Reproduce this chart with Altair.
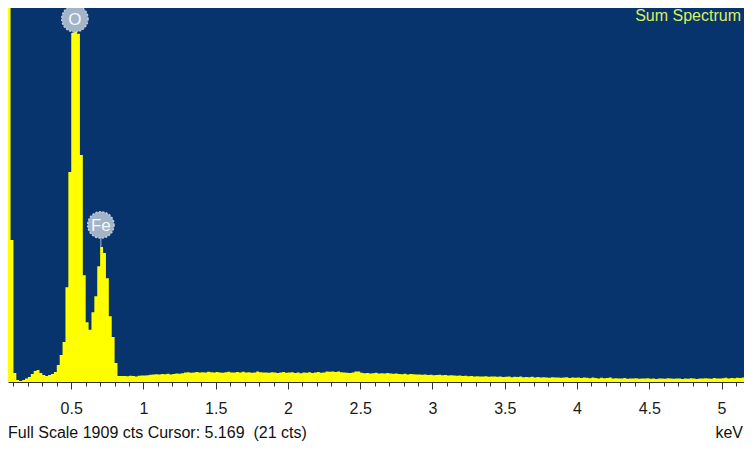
import altair as alt
import pandas as pd

# ---------------- data ----------------
channel_start_kev = 0.06
channel_width_kev = 0.02
counts = [
    2450, 712, 45, 10, 5, 10, 18, 25, 40, 55,          # 0.06 - 0.24
    60, 45, 35, 30, 35, 40, 50, 85, 135, 200,          # 0.26 - 0.44
    475, 1052, 1749, 1755, 1745, 1137, 535, 300, 262, 350,  # 0.46 - 0.64
    430, 580, 676, 646, 520, 330, 225, 95, 30, 30,     # 0.66 - 0.84
    30, 29, 31, 30, 28, 31, 33, 32, 34, 36,            # 0.86 - 1.04
    37, 39, 38, 40, 39, 41, 38, 40, 42, 41,            # 1.06 - 1.24
    44, 47, 49, 46, 48, 50, 47, 49, 48, 51,            # 1.26 - 1.44
    49, 47, 50, 48, 46, 49, 51, 48, 47, 50,            # 1.46 - 1.64
    48, 51, 47, 49, 46, 48, 52, 49, 47, 48,            # 1.66 - 1.84
    46, 49, 47, 45, 48, 50, 46, 47, 49, 45,            # 1.86 - 2.04
    47, 44, 48, 46, 49, 45, 47, 50, 46, 48,            # 2.06 - 2.24
    52, 51, 53, 50, 52, 49, 47, 46, 45, 47,            # 2.26 - 2.44
    52, 53, 46, 44, 45, 43, 44, 46, 43, 44,            # 2.46 - 2.64
    43, 45, 42, 41, 42, 40, 39, 41, 38, 40,            # 2.66 - 2.84
    39, 37, 38, 36, 37, 35, 36, 34, 35, 36,            # 2.86 - 3.04
    34, 35, 33, 34, 32, 31, 33, 30, 31, 29,            # 3.06 - 3.24
    30, 28, 29, 27, 28, 29, 26, 27, 28, 26,            # 3.26 - 3.44
    27, 25, 26, 28, 24, 26, 25, 27, 24, 25,            # 3.46 - 3.64
    24, 26, 23, 25, 22, 24, 23, 21, 24, 22,            # 3.66 - 3.84
    23, 21, 22, 24, 20, 22, 21, 23, 20, 22,            # 3.86 - 4.04
    21, 19, 22, 20, 18, 21, 19, 20, 22, 18,            # 4.06 - 4.24
    19, 17, 18, 20, 16, 18, 17, 19, 16, 18,            # 4.26 - 4.44
    17, 19, 16, 18, 15, 17, 18, 16, 19, 17,            # 4.46 - 4.64
    16, 18, 17, 15, 18, 16, 19, 17, 15, 18,            # 4.66 - 4.84
    17, 19, 18, 16, 20, 18, 17, 19, 21, 18,            # 4.86 - 5.04
    20, 19, 21, 20, 22, 21, 19, 20,                    # 5.06 - 5.20
]

elements = ["O", "Fe"]
line_kev = [0.525, 0.705]
label_counts = [1820, 787]
peak_counts = [1755, 676]

major_ticks = [0.5, 1, 1.5, 2, 2.5, 3, 3.5, 4, 4.5, 5]
minor_ticks = [round(0.1 * i, 1) for i in range(1, 52)]

x_domain = [0.0623, 5.1557]
y_domain = [0, 1874]

title_text = "Sum Spectrum"
footer_text = "Full Scale 1909 cts Cursor: 5.169\u00a0 (21 cts)"
unit_text = "keV"

# ---------------- build ----------------
kev = [round(channel_start_kev + channel_width_kev * i, 2) for i in range(len(counts))]
kev.append(round(kev[-1] + channel_width_kev, 2))
cts = counts + [counts[-1]]
spec_df = pd.DataFrame({"kev": kev, "cts": cts})

FONT = "Liberation Sans, Arial, sans-serif"
BLUE = "#08346e"
YELLOW = "#ffff00"

xs = alt.Scale(domain=x_domain, nice=False, zero=False)
ys = alt.Scale(domain=y_domain, nice=False, zero=False)

spectrum = alt.Chart(spec_df).mark_area(
    interpolate="step-after", color=YELLOW, clip=True
).encode(
    x=alt.X("kev:Q", scale=xs, axis=alt.Axis(
        orient="bottom", values=major_ticks, format="~g", title=None, grid=False,
        domainColor="#333333", domainWidth=1, tickColor="#333333", tickSize=7,
        tickWidth=1, labelFont=FONT, labelFontSize=16, labelColor="#1a1a1a",
        labelPadding=11, labelFlush=False, labelOverlap=False)),
    y=alt.Y("cts:Q", scale=ys, axis=None),
)

minor = alt.Chart(pd.DataFrame({"kev": minor_ticks})).mark_rule(opacity=0).encode(
    x=alt.X("kev:Q", scale=xs, axis=alt.Axis(
        orient="bottom", values=minor_ticks, labels=False, domain=False, grid=False,
        title=None, tickSize=4, tickColor="#333333", tickWidth=1)),
)

lab_df = pd.DataFrame({"element": elements, "kev": line_kev,
                       "label_cts": label_counts, "peak_cts": peak_counts})

connector = alt.Chart(lab_df).mark_rule(color="#aebdd0", strokeWidth=1).encode(
    x=alt.X("kev:Q", scale=xs, axis=None),
    y=alt.Y("label_cts:Q", scale=ys, axis=None),
    y2="peak_cts:Q",
)

circles = alt.Chart(lab_df).mark_point(
    shape="circle", filled=True, size=690, color="#a3b3c8", opacity=1,
    stroke="#c3cfdc", strokeWidth=1.5, strokeDash=[2, 1.5]
).encode(
    x=alt.X("kev:Q", scale=xs, axis=None),
    y=alt.Y("label_cts:Q", scale=ys, axis=None),
)

letters = alt.Chart(lab_df).mark_text(
    font=FONT, fontSize=17, color="#f4f7fa", align="center", baseline="middle", dy=1
).encode(
    x=alt.X("kev:Q", scale=xs, axis=None),
    y=alt.Y("label_cts:Q", scale=ys, axis=None),
    text="element:N",
)

title_mark = alt.Chart(pd.DataFrame({"t": [title_text]})).mark_text(
    font=FONT, fontSize=16, color="#d8f060", align="right", baseline="alphabetic"
).encode(x=alt.value(733), y=alt.value(13), text="t:N")

footer_mark = alt.Chart(pd.DataFrame({"t": [footer_text]})).mark_text(
    font=FONT, fontSize=16, color="#111111", align="left", baseline="alphabetic"
).encode(x=alt.value(0), y=alt.value(430), text="t:N")

unit_mark = alt.Chart(pd.DataFrame({"t": [unit_text]})).mark_text(
    font=FONT, fontSize=16, color="#111111", align="right", baseline="alphabetic"
).encode(x=alt.value(735), y=alt.value(430), text="t:N")

chart = alt.layer(
    spectrum, minor, connector, circles, letters,
    title_mark, footer_mark, unit_mark
).resolve_axis(x="independent").properties(
    width=736, height=374,
    autosize=alt.AutoSizeParams(type="none"),
    padding={"left": 0, "top": 0, "right": 0, "bottom": 62},
    background="white"
).configure_view(fill=BLUE, stroke=None)

chart.save("out.html", embed_options={"renderer": "svg", "actions": False})
